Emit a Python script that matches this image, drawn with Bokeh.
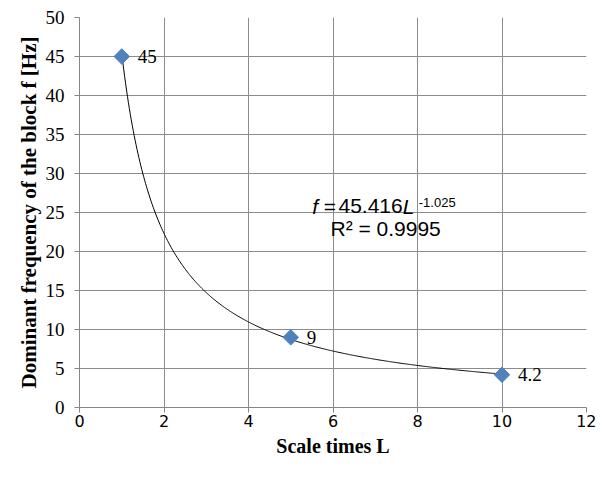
import numpy as np
from bokeh.plotting import figure
from bokeh.models import Range1d, FixedTicker, Label
from bokeh.embed import file_html
from bokeh.resources import INLINE

scale_times = [1, 5, 10]
frequency = [45, 9, 4.2]
point_labels = ["45", "9", "4.2"]
fit_a = 45.416
fit_b = -1.025
r_squared = "0.9995"
x_ticks = [0, 2, 4, 6, 8, 10, 12]
y_ticks = [0, 5, 10, 15, 20, 25, 30, 35, 40, 45, 50]

p = figure(width=596, height=463, output_backend="svg", toolbar_location=None,
           x_range=Range1d(0, 12), y_range=Range1d(0, 50),
           min_border_left=79, min_border_right=10, min_border_top=17, min_border_bottom=56)
p.outline_line_color = None
p.background_fill_color = "white"
p.border_fill_color = "white"

for ax in (p.xaxis, p.yaxis):
    ax.axis_line_color = "#868686"
    ax.major_tick_line_color = "#868686"
    ax.minor_tick_line_color = None
    ax.major_tick_in = 0
    ax.major_tick_out = 5
    ax.major_label_text_color = "black"
    ax.axis_label_text_color = "black"

p.xaxis.ticker = FixedTicker(ticks=x_ticks)
p.yaxis.ticker = FixedTicker(ticks=y_ticks)
p.xaxis.major_label_text_font = "DejaVu Sans"
p.xaxis.major_label_text_font_size = "16px"
p.yaxis.major_label_text_font = "Liberation Serif"
p.yaxis.major_label_text_font_size = "19px"
p.xaxis.major_label_standoff = 2
p.yaxis.major_label_standoff = 10

p.xaxis.axis_label = "Scale times L"
p.yaxis.axis_label = "Dominant frequency of the block f [Hz]"
for ax in (p.xaxis, p.yaxis):
    ax.axis_label_text_font = "Liberation Serif"
    ax.axis_label_text_font_style = "bold"
p.xaxis.axis_label_text_font_size = "20px"
p.yaxis.axis_label_text_font_size = "21px"
p.xaxis.axis_label_standoff = 5
p.yaxis.axis_label_standoff = 2

p.xgrid.grid_line_color = "#8c8c8c"
p.ygrid.grid_line_color = "#8c8c8c"
p.xgrid.grid_line_width = 1
p.ygrid.grid_line_width = 1

xs = np.linspace(scale_times[0], scale_times[-1], 400)
p.line(xs, fit_a * xs ** fit_b, line_color="black", line_width=1)

p.scatter(scale_times, frequency, marker="square", angle=np.pi / 4, size=11,
          fill_color="#4F81BD", line_color="#4F81BD")

p.text(x=scale_times, y=frequency, text=point_labels, x_offset=16,
       text_font={"value": "Liberation Serif"}, text_font_size="19px",
       text_baseline="middle", text_align="left", text_color="black")

def add_label(x, y, text, size, style="normal"):
    p.add_layout(Label(x=x, y=y, text=text, text_font="Liberation Sans",
                       text_font_style=style, text_font_size=size, text_color="black",
                       text_align="left", text_baseline="middle"))

add_label(5.51, 25.8, "f", "21px", "italic")
add_label(5.78, 25.8, "=", "21px")
add_label(6.13, 25.8, "45.416", "21px")
add_label(7.65, 25.8, "L", "21px", "italic")
add_label(8.03, 26.3, str(fit_b), "13px")
add_label(5.94, 22.95, "R² = " + r_squared, "21px")

open("out.html", "w").write(file_html(p, INLINE))
